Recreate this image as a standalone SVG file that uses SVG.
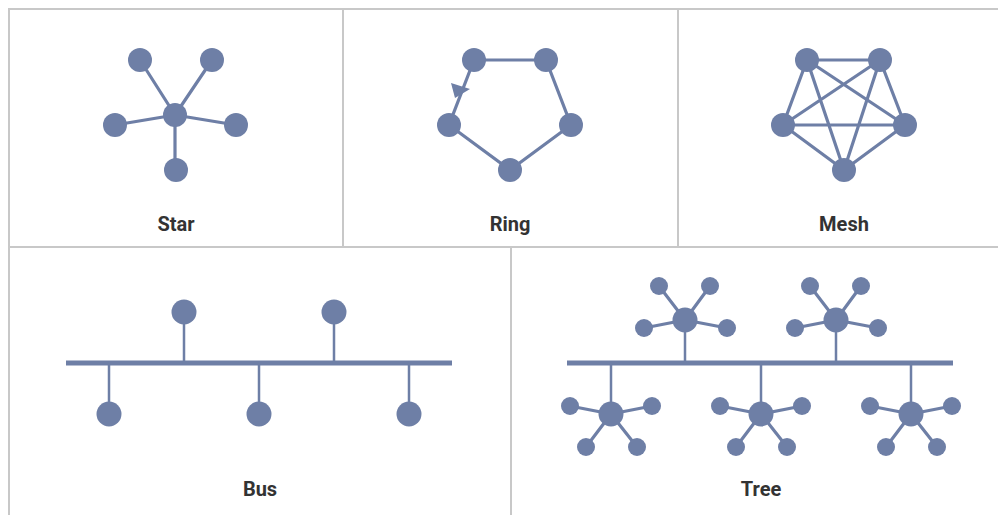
<svg xmlns="http://www.w3.org/2000/svg" width="998" height="515" viewBox="0 0 998 515">
<style>
.frame{stroke:#c8c8c8;stroke-width:2;fill:none}
.e{stroke:#6e7fa6;stroke-width:3.2;fill:none;stroke-linecap:round}
.s{stroke:#6e7fa6;stroke-width:2.5;fill:none}
.bus{stroke:#6e7fa6;stroke-width:5;fill:none}
.n{fill:#6e7fa6}
.lbl{font-family:"Roboto","Liberation Sans",sans-serif;font-weight:bold;font-size:20px;fill:#333;text-anchor:middle}
</style>
<rect width="998" height="515" fill="#fff"/>
<g id="frame">
<path class="frame" d="M9,515 V9 H998 M9,247 H998 M343,9 V247 M678,9 V247 M511,247 V515"/>
</g>
<g id="connectors">
<path class="e" d="M175,115 L140,60 M175,115 L212,60 M175,115 L115,125 M175,115 L236,125 M175,115 L175,170"/>
<path class="e" d="M474,60 L546,60 L571,125 L510,170 L449,125 Z"/>
<polygon class="n" points="451,83 470,89 455,98"/>
<path class="e" d="M807,60 L880,60 M807,60 L783,125 M807,60 L905,125 M807,60 L844,170 M880,60 L783,125 M880,60 L905,125 M880,60 L844,170 M783,125 L905,125 M783,125 L844,170 M905,125 L844,170"/>
<path class="bus" d="M66,363 H452"/>
<path class="s" d="M184,312 V363 M334,312 V363 M109,363 V414 M259,363 V414 M409,363 V414"/>
<path class="bus" d="M567,363 H953"/>
<path class="s" d="M685,320 V363 M836,320 V363 M611,363 V414 M761,363 V414 M911,363 V414"/>
<path class="e" d="M685,320 l-26,-34 M685,320 l25,-34 M685,320 l-41,8 M685,320 l42,8
M836,320 l-26,-34 M836,320 l25,-34 M836,320 l-41,8 M836,320 l42,8
M611,414 l-41,-8 M611,414 l41,-8 M611,414 l-25,33 M611,414 l26,33
M761,414 l-41,-8 M761,414 l41,-8 M761,414 l-25,33 M761,414 l26,33
M911,414 l-41,-8 M911,414 l41,-8 M911,414 l-25,33 M911,414 l26,33"/>
</g>
<g id="star">
<circle class="n" cx="175" cy="115" r="12"/>
<circle class="n" cx="140" cy="60" r="12"/>
<circle class="n" cx="212" cy="60" r="12"/>
<circle class="n" cx="115" cy="125" r="12"/>
<circle class="n" cx="236" cy="125" r="12"/>
<circle class="n" cx="176" cy="170" r="12"/>
<text class="lbl" x="176" y="231">Star</text>
</g>
<g id="ring">
<circle class="n" cx="474" cy="60" r="12"/>
<circle class="n" cx="546" cy="60" r="12"/>
<circle class="n" cx="449" cy="125" r="12"/>
<circle class="n" cx="571" cy="125" r="12"/>
<circle class="n" cx="510" cy="170" r="12"/>
<text class="lbl" x="510" y="231">Ring</text>
</g>
<g id="mesh">
<circle class="n" cx="807" cy="60" r="12"/>
<circle class="n" cx="880" cy="60" r="12"/>
<circle class="n" cx="783" cy="125" r="12"/>
<circle class="n" cx="905" cy="125" r="12"/>
<circle class="n" cx="844" cy="170" r="12"/>
<text class="lbl" x="844" y="231">Mesh</text>
</g>
<g id="bus">
<circle class="n" cx="184" cy="312" r="12.5"/>
<circle class="n" cx="334" cy="312" r="12.5"/>
<circle class="n" cx="109" cy="414" r="12.5"/>
<circle class="n" cx="259" cy="414" r="12.5"/>
<circle class="n" cx="409" cy="414" r="12.5"/>
<text class="lbl" x="260" y="496">Bus</text>
</g>
<g id="tree">
<g id="tree-hub1">
<circle class="n" cx="685" cy="320" r="12.5"/>
<circle class="n" cx="659" cy="286" r="9"/>
<circle class="n" cx="710" cy="286" r="9"/>
<circle class="n" cx="644" cy="328" r="9"/>
<circle class="n" cx="727" cy="328" r="9"/>
</g>
<g id="tree-hub2">
<circle class="n" cx="836" cy="320" r="12.5"/>
<circle class="n" cx="810" cy="286" r="9"/>
<circle class="n" cx="861" cy="286" r="9"/>
<circle class="n" cx="795" cy="328" r="9"/>
<circle class="n" cx="878" cy="328" r="9"/>
</g>
<g id="tree-hub3">
<circle class="n" cx="611" cy="414" r="12.5"/>
<circle class="n" cx="570" cy="406" r="9"/>
<circle class="n" cx="652" cy="406" r="9"/>
<circle class="n" cx="586" cy="447" r="9"/>
<circle class="n" cx="637" cy="447" r="9"/>
</g>
<g id="tree-hub4">
<circle class="n" cx="761" cy="414" r="12.5"/>
<circle class="n" cx="720" cy="406" r="9"/>
<circle class="n" cx="802" cy="406" r="9"/>
<circle class="n" cx="736" cy="447" r="9"/>
<circle class="n" cx="787" cy="447" r="9"/>
</g>
<g id="tree-hub5">
<circle class="n" cx="911" cy="414" r="12.5"/>
<circle class="n" cx="870" cy="406" r="9"/>
<circle class="n" cx="952" cy="406" r="9"/>
<circle class="n" cx="886" cy="447" r="9"/>
<circle class="n" cx="937" cy="447" r="9"/>
</g>
<text class="lbl" x="761" y="496">Tree</text>
</g>
</svg>
